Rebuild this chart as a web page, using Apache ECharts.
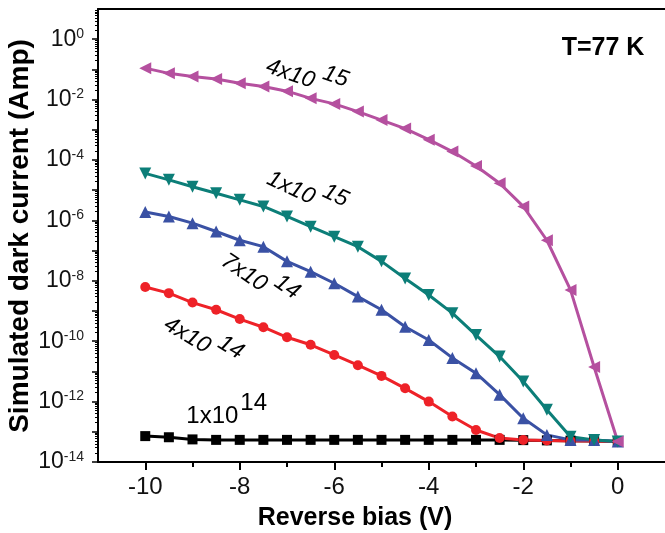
<!DOCTYPE html>
<html><head><meta charset="utf-8">
<script src="https://cdn.jsdelivr.net/npm/echarts@6/dist/echarts.min.js"></script>
<style>html,body{margin:0;padding:0;background:#fff}#c{width:665px;height:533px}</style>
</head><body><div id="c"></div>
<script>
// ---- data ----
const bias = [-10,-9.5,-9,-8.5,-8,-7.5,-7,-6.5,-6,-5.5,-5,-4.5,-4,-3.5,-3,-2.5,-2,-1.5,-1,-0.5,0];
const dark1e14 = [7.2e-14,6.6e-14,5.6e-14,5.4e-14,5.4e-14,5.4e-14,5.4e-14,5.4e-14,5.4e-14,5.4e-14,5.4e-14,5.4e-14,5.4e-14,5.4e-14,5.4e-14,5.4e-14,5.3e-14,5.2e-14,5.1e-14,5.0e-14,4.8e-14];
const dark4e14 = [6.2e-9,3.9e-9,1.9e-9,1.1e-9,5.4e-10,2.9e-10,1.35e-10,7.6e-11,3.5e-11,1.6e-11,7.1e-12,2.75e-12,1.0e-12,3.2e-13,1.15e-13,6.2e-14,5.4e-14,5.2e-14,5.0e-14,5.0e-14,4.8e-14];
const dark7e14 = [1.9e-6,1.35e-6,8.1e-7,4.3e-7,2.2e-7,1.35e-7,4.4e-8,2.0e-8,8.3e-9,3.0e-9,1.1e-9,3.0e-10,1.1e-10,2.8e-11,8.7e-12,1.7e-12,2.8e-13,7.9e-14,5.4e-14,5.4e-14,4.8e-14];
const dark1e15 = [3.6e-5,2.2e-5,1.3e-5,7.9e-6,4.8e-6,2.9e-6,1.35e-6,6.2e-7,2.9e-7,1.35e-7,4.4e-8,1.2e-8,3.4e-9,8.5e-10,1.6e-10,3.1e-11,4.6e-12,5.4e-13,6.9e-14,5.4e-14,4.8e-14];
const dark4e15 = [1.1e-1,7.4e-2,5.8e-2,4.8e-2,3.5e-2,2.7e-2,1.9e-2,1.1e-2,7.2e-3,4.0e-3,2.1e-3,1.1e-3,4.7e-4,1.9e-4,6.3e-5,1.7e-5,2.9e-6,2.2e-7,5.0e-9,1.4e-11,4.8e-14];
const xTickLabels = [-10,-8,-6,-4,-2,0];
const xMinorTicks = [-9,-7,-5,-3,-1];
const yTickLabels = [1e-14,1e-12,1e-10,1e-8,1e-6,1e-4,1e-2,1e0];
const yDecadeTicks = [1e-14,1e-13,1e-12,1e-11,1e-10,1e-9,1e-8,1e-7,1e-6,1e-5,1e-4,1e-3,1e-2,1e-1,1e0];
const yMinorTicks = [];
yDecadeTicks.forEach(d => { for (let k = 2; k <= 9; k++) yMinorTicks.push(+(k * d).toPrecision(3)); });

const FONT = '"Liberation Sans", Arial, sans-serif';
const pairs = ys => bias.map((x, i) => [x, ys[i]]);
const gridBox = {left: 98, top: 9, width: 569, height: 453};

const chart = echarts.init(document.getElementById('c'), null, {renderer: 'canvas'});

function mk(name, ys, color, symbol, rot, size) {
  return {
    name, type: 'line', xAxisIndex: 0, yAxisIndex: 0, data: pairs(ys),
    symbol, symbolRotate: rot, symbolSize: size, showSymbol: true,
    lineStyle: {color, width: 3}, itemStyle: {color},
    emphasis: {disabled: true}
  };
}

chart.setOption({
  animation: false,
  backgroundColor: '#fff',
  grid: [Object.assign({}, gridBox), Object.assign({}, gridBox)],
  xAxis: [
    {type: 'value', gridIndex: 0, position: 'bottom', min: -11, max: 1,
     axisLine: {show: true, onZero: false, lineStyle: {color: '#000', width: 2}},
     axisTick: {show: true, inside: false, length: 8, customValues: xTickLabels, lineStyle: {color: '#000', width: 2}},
     axisLabel: {show: true, customValues: xTickLabels, margin: 13, color: '#111', fontSize: 24, fontFamily: FONT,
                 formatter: v => String(v)},
     splitLine: {show: false}},
    {type: 'value', gridIndex: 0, position: 'top', min: -11, max: 1,
     axisLine: {show: true, onZero: false, lineStyle: {color: '#000', width: 2}},
     axisTick: {show: false}, axisLabel: {show: false}, splitLine: {show: false}},
    {type: 'value', gridIndex: 1, position: 'bottom', min: -11, max: 1,
     axisLine: {show: false, onZero: false},
     axisTick: {show: true, inside: false, length: 5, customValues: xMinorTicks, lineStyle: {color: '#000', width: 2}},
     axisLabel: {show: false}, splitLine: {show: false}}
  ],
  yAxis: [
    {type: 'log', logBase: 10, gridIndex: 0, position: 'left', min: 1e-14, max: 10,
     axisLine: {show: true, onZero: false, lineStyle: {color: '#000', width: 2}},
     axisTick: {show: true, inside: false, length: 6, customValues: yDecadeTicks, lineStyle: {color: '#000', width: 1.5}},
     axisLabel: {show: true, customValues: yTickLabels, margin: 14, color: '#111', fontFamily: FONT,
       formatter: v => '{b|10}{s|' + Math.round(Math.log10(v)) + '}',
       rich: {b: {fontSize: 23, lineHeight: 24, fontFamily: FONT, color: '#111'},
              s: {fontSize: 14, lineHeight: 14, verticalAlign: 'top', fontFamily: FONT, color: '#222'}}},
     splitLine: {show: false}},
    {type: 'log', logBase: 10, gridIndex: 1, position: 'left', min: 1e-14, max: 10,
     axisLine: {show: false, onZero: false},
     axisTick: {show: true, inside: false, length: 3, customValues: yMinorTicks, lineStyle: {color: '#000', width: 1}},
     axisLabel: {show: false}, splitLine: {show: false}}
  ],
  series: [
    mk('1x10^14', dark1e14, '#000000', 'rect', 0, 10),
    mk('4x10^14', dark4e14, '#EE2228', 'circle', 0, 10),
    mk('7x10^14', dark7e14, '#3A51A4', 'triangle', 0, 12),
    mk('1x10^15', dark1e15, '#0C7E78', 'triangle', 180, 12),
    mk('4x10^15', dark4e15, '#B5509F', 'triangle', 90, 12)
  ]
});

// ---- annotations: base text, superscript, anchor (data coords), rotation deg ----
const annotations = [
  {base: '4x10', sup: '15', at: [-6.43, 3.85e-2], rot: 19, italic: true},
  {base: '1x10', sup: '15', at: [-6.44, 5.3e-6], rot: 25, italic: true},
  {base: '7x10', sup: '14', at: [-7.47, 6.4e-9], rot: 34, italic: true},
  {base: '4x10', sup: '14', at: [-8.66, 5.9e-11], rot: 31, italic: true},
  {base: '1x10', sup: '14', at: [-8.03, 3.2e-13], rot: 0, italic: false}
];
const graphics = annotations.map(a => {
  const p = chart.convertToPixel({xAxisIndex: 0, yAxisIndex: 0}, a.at);
  const style = {fontSize: a.italic ? 23 : 24, fontFamily: FONT, fontStyle: a.italic ? 'italic' : 'normal', fill: '#000'};
  return {
    type: 'group', x: p[0], y: p[1], rotation: -a.rot * Math.PI / 180,
    children: [
      {type: 'text', style: Object.assign({text: a.base, x: 0, y: 0, align: 'right', verticalAlign: 'middle'}, style)},
      {type: 'text', style: Object.assign({text: a.sup, x: a.italic ? 6 : 2, y: a.italic ? -12 : -13, align: 'left', verticalAlign: 'middle'}, style)}
    ]
  };
});
graphics.push(
  {type: 'text', x: 603, y: 48, style: {text: 'T=77 K', fontSize: 25, fontWeight: 'bold', fontFamily: FONT, fill: '#000', align: 'center', verticalAlign: 'middle'}},
  {type: 'text', x: 355, y: 518, style: {text: 'Reverse bias (V)', fontSize: 25, fontWeight: 'bold', fontFamily: FONT, fill: '#000', align: 'center', verticalAlign: 'middle'}},
  {type: 'text', x: 20, y: 236, rotation: Math.PI / 2, style: {text: 'Simulated dark current (Amp)', fontSize: 28, fontWeight: 'bold', fontFamily: FONT, fill: '#000', align: 'center', verticalAlign: 'middle'}}
);
chart.setOption({graphic: graphics});
</script>
</body></html>
